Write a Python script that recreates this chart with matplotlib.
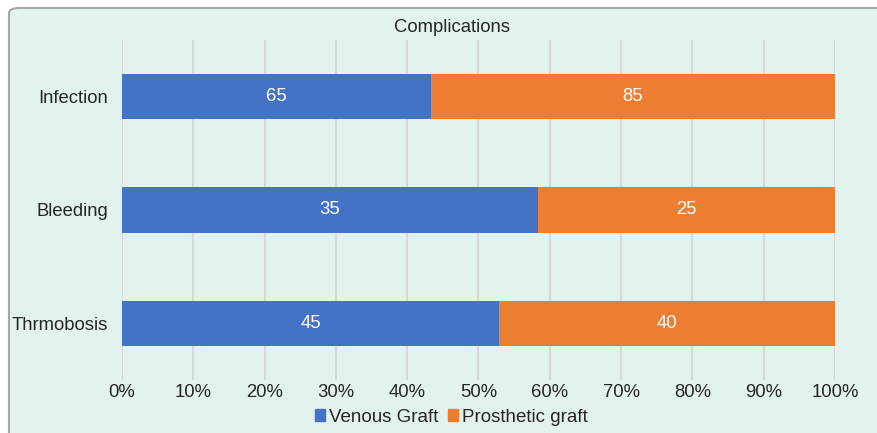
import matplotlib.pyplot as plt
import numpy as np
from matplotlib.patches import FancyBboxPatch, Patch
from matplotlib.ticker import PercentFormatter

plt.rcParams['font.family'] = ['Liberation Sans', 'DejaVu Sans']

complications = ['Infection', 'Bleeding', 'Thrmobosis']
venous = np.array([65, 35, 45])
prosthetic = np.array([85, 25, 40])

blue = '#4472c4'
orange = '#ed7d31'

totals = venous + prosthetic
venous_pct = venous / totals * 100
prosthetic_pct = prosthetic / totals * 100

fig = plt.figure(figsize=(8.77, 4.33), dpi=100)
fig.patch.set_facecolor('white')

# rounded chart panel, cut off at the right and bottom edges
panel = FancyBboxPatch((9 / 877, -0.05), 1.05, 1 - 8 / 433 + 0.05,
                       boxstyle='round,pad=0,rounding_size=0.012',
                       transform=fig.transFigure, facecolor='#e2f2ee',
                       edgecolor='#a6a6a6', linewidth=1.5, zorder=-1)
fig.patches.append(panel)

ax = fig.add_axes([122 / 877, 1 - 380 / 433, 713 / 877, 340 / 433])
ax.set_facecolor('none')

y = np.arange(len(complications))
ax.barh(y, venous_pct, height=0.4, color=blue, zorder=3)
ax.barh(y, prosthetic_pct, left=venous_pct, height=0.4, color=orange, zorder=3)

for i in range(len(complications)):
    ax.text(venous_pct[i] / 2, y[i], str(venous[i]), ha='center', va='center',
            color='white', fontsize=13.3, zorder=4)
    ax.text(venous_pct[i] + prosthetic_pct[i] / 2, y[i], str(prosthetic[i]),
            ha='center', va='center', color='white', fontsize=13.3, zorder=4)

ax.set_xlim(0, 100)
ax.set_ylim(2.5, -0.5)
ax.set_xticks(np.arange(0, 101, 10))
ax.xaxis.set_major_formatter(PercentFormatter(decimals=0))
ax.set_yticks(y)
ax.set_yticklabels(complications)
ax.tick_params(axis='both', length=0, labelsize=13.3, colors='#262626')
ax.tick_params(axis='x', pad=3)
ax.tick_params(axis='y', pad=10)
ax.grid(axis='x', color='#d9d9d9', linewidth=1.5, zorder=1)
for s in ax.spines.values():
    s.set_visible(False)

fig.text(452 / 877, 1 - 27 / 433, 'Complications', ha='center', va='center',
         fontsize=13.3, color='#262626')

handles = [Patch(color=blue, label='Venous Graft'),
           Patch(color=orange, label='Prosthetic graft')]
fig.legend(handles=handles, loc='center', bbox_to_anchor=(451 / 877, 1 - 417 / 433),
           ncol=2, frameon=False, fontsize=13.5, handlelength=0.55, handleheight=0.55,
           handletextpad=0.2, columnspacing=0.5, labelcolor='#262626')

fig.savefig('out.png', dpi=100)
